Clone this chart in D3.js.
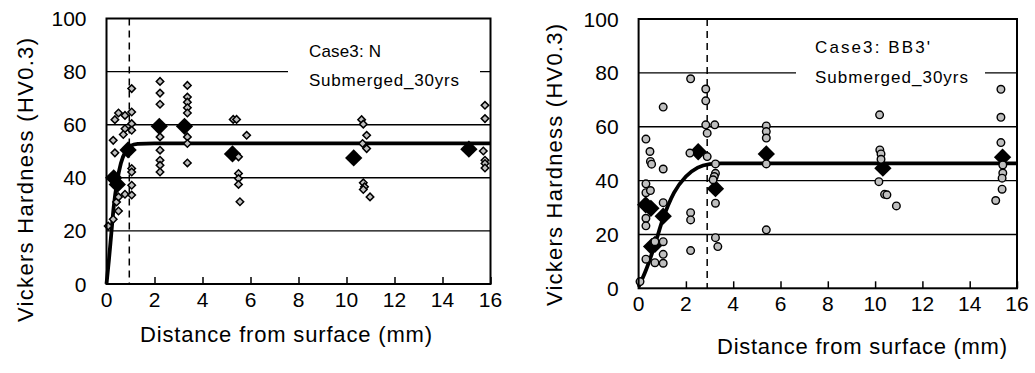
<!DOCTYPE html>
<html><head><meta charset="utf-8">
<script src="https://cdn.jsdelivr.net/npm/d3@7"></script>
<style>body{margin:0;background:#fff}svg{display:block}text{font-family:"Liberation Sans",Arial,sans-serif;fill:#000}</style>
</head><body><svg id="c" width="1035" height="373"></svg>
<script>
// ---- data ----
const xTicks = [0,2,4,6,8,10,12,14,16];
const yTicks = [0,20,40,60,80,100];
const gridValues = [20,40,60,80];

// Left panel: Case3: N
const leftLabel1 = "Case3: N";
const leftLabel2 = "Submerged_30yrs";
const leftBoundary = 0.95;
const leftPtX = [0.07,0.28,0.35,0.5,0.35,0.42,0.5,0.5,0.28,0.77,0.77,0.7,0.77,
  1.05,1.05,1.05,1.05,1.05,1.05,1.05,1.05,
  2.23,2.23,2.23,2.23,2.23,2.23,2.23,2.23,
  3.37,3.37,3.37,3.37,3.37,3.37,3.37,3.37,
  5.28,5.42,5.5,5.5,5.5,5.5,5.56,5.84,
  10.63,10.7,10.84,10.67,10.84,10.7,10.75,10.7,10.98,
  15.77,15.77,15.7,15.77,15.77,15.77];
const leftPtY = [21.8,54.1,61.9,64.4,49.4,30.9,32.8,27.5,24.4,63.5,58.5,56.3,33.8,
  73.6,64.8,60.4,57.9,43.5,42.2,37.2,33.5,
  76.3,71.9,67.7,55.4,50.4,46.6,44.7,42.2,
  74.8,70.4,68.5,66.4,64.4,55.4,52.9,45.6,
  62,62,47.9,41.6,39.7,37.5,31,56,
  61.9,60.2,56,52.9,51,38.1,36.6,35.6,32.8,
  67.3,62.3,50.1,46.6,45.4,43.7];
const leftMeanX = [0.3,0.45,0.9,2.2,3.25,5.25,10.3,15.1];
const leftMeanY = [40,37.5,50.5,59.4,59.4,49,47.5,50.8];
const leftFitX = [0,0.1,0.2,0.3,0.45,0.6,0.8,1.0,1.3,2,16];
const leftFitY = [0,9,19,29,39,45.5,50,52,52.8,53,53];

// Right panel: Case3: BB3'
const rightLabel1 = "Case3:  BB3'";
const rightLabel2 = "Submerged_30yrs";
const rightBoundary = 2.9;
const rightPtX = [0.06,
  0.31,0.48,0.5,0.55,0.31,0.31,0.5,0.31,0.31,0.31,
  0.69,0.69,
  1.04,1.04,1.04,1.04,1.04,1.04,
  2.2,2.17,2.2,2.2,2.2,
  2.84,2.84,2.84,2.9,2.9,
  3.22,3.25,3.25,3.2,3.15,3.25,3.25,3.35,
  5.4,5.4,5.4,5.4,5.4,
  10.19,10.2,10.25,10.25,10.16,10.4,10.5,10.9,
  15.32,15.32,15.32,15.4,15.4,15.37,15.37,15.1];
const rightPtY = [2.5,
  55.4,50.8,47.1,46.1,38.8,35.5,36.3,26,23.2,10.8,
  17.3,9.5,
  67.3,44.3,31.8,17.3,12.6,9.3,
  77.8,50.2,28.1,25.4,14,
  74,69.6,60.7,57.6,48.9,
  60.7,46.2,42.7,41.5,40.3,31.6,18.8,15.5,
  60.3,58.2,55.8,46.2,21.7,
  64.4,51.4,49.9,47.9,39.6,34.9,34.7,30.6,
  73.9,63.5,54.1,45.8,42.8,40.9,36.8,32.6];
const rightMeanX = [0.3,0.52,0.55,0.69,1.04,2.52,3.25,5.4,10.33,15.39];
const rightMeanY = [31,29.7,15.5,16.3,26.8,50.7,37,49.9,44.6,48.7];
const rightFitX = [0,0.3,0.7,1.0,1.5,2.0,2.5,3.0,3.5,16];
const rightFitY = [0.5,6.5,16.5,25,35.5,41.5,44.8,46.1,46.4,46.4];

const xTitle = "Distance from surface (mm)";
const yTitle = "Vickers Hardness (HV0.3)";

// ---- drawing ----
const svg = d3.select("#c");
svg.append("rect").attr("width",1035).attr("height",373).attr("fill","#fff");

function panel(o){
  const x = d3.scaleLinear().domain([0,16]).range([o.x0,o.x1]);
  const y = d3.scaleLinear().domain([0,100]).range([o.y0,o.y1]);
  const g = svg.append("g");
  g.selectAll("line.grid").data(gridValues).join("line")
    .attr("x1",x(0)).attr("x2",x(16)).attr("y1",d=>y(d)).attr("y2",d=>y(d))
    .attr("stroke","#000").attr("stroke-width",1.4);
  const xa = d3.axisTop(x).tickValues(xTicks).tickSize(7).tickFormat("");
  const ga = g.append("g").attr("transform",`translate(0,${y(0)})`).call(xa);
  ga.select(".domain").remove();
  ga.selectAll("line").attr("stroke","#000").attr("stroke-width",1.5);
  g.selectAll("text.xt").data(xTicks).join("text")
    .attr("x",d=>x(d)).attr("y",y(0)+o.xtOff).attr("text-anchor","middle")
    .attr("font-size",21).text(d=>d);
  g.selectAll("text.yt").data(yTicks).join("text")
    .attr("x",x(0)-20).attr("y",d=>y(d)).attr("dy","0.36em").attr("text-anchor","end")
    .attr("font-size",21).text(d=>d);
  g.append("line").attr("x1",x(o.boundary)).attr("x2",x(o.boundary))
    .attr("y1",y(100)).attr("y2",y(0)).attr("stroke","#000").attr("stroke-width",1.5)
    .attr("stroke-dasharray","7,5");
  g.append("rect").attr("x",o.boxX0).attr("width",o.boxX1-o.boxX0)
    .attr("y",y(80)-4).attr("height",8).attr("fill","#fff");
  g.append("text").attr("x",o.tx).attr("y",o.ty1).attr("font-size",17)
    .attr("textLength",o.tl1).attr("lengthAdjust","spacing").text(o.l1);
  g.append("text").attr("x",o.tx).attr("y",o.ty2).attr("font-size",17)
    .attr("textLength",o.tl2).attr("lengthAdjust","spacing").text(o.l2);
  const fit = o.fitX.map((v,i)=>[v,o.fitY[i]]);
  g.append("path").datum(fit)
    .attr("d",d3.line().x(d=>x(d[0])).y(d=>y(d[1])).curve(d3.curveMonotoneX))
    .attr("fill","none").attr("stroke","#000").attr("stroke-width",3.8);
  const mean = o.meanX.map((v,i)=>[v,o.meanY[i]]);
  const big = d3.symbol().type(d3.symbolSquare).size(150)();
  g.selectAll("path.mean").data(mean).join("path")
    .attr("d",big).attr("transform",d=>`translate(${x(d[0])},${y(d[1])}) rotate(45)`)
    .attr("fill","#000");
  const pts = o.ptX.map((v,i)=>[v,o.ptY[i]]);
  if(o.circle){
    g.selectAll("circle.pt").data(pts).join("circle")
      .attr("cx",d=>x(d[0])).attr("cy",d=>y(d[1])).attr("r",3.8)
      .attr("fill","#bfbfbf").attr("stroke","#000").attr("stroke-width",1.4);
  } else {
    const sm = d3.symbol().type(d3.symbolSquare).size(28)();
    g.selectAll("path.pt").data(pts).join("path")
      .attr("d",sm).attr("transform",d=>`translate(${x(d[0])},${y(d[1])}) rotate(45)`)
      .attr("fill","#bfbfbf").attr("stroke","#000").attr("stroke-width",1.5);
  }
  g.append("rect").attr("x",x(0)).attr("y",y(100)).attr("width",x(16)-x(0))
    .attr("height",y(0)-y(100)).attr("fill","none").attr("stroke","#000").attr("stroke-width",2);
  g.append("text").attr("x",o.xtX).attr("y",o.xtY).attr("text-anchor","middle")
    .attr("font-size",22).attr("textLength",o.xtLen).attr("lengthAdjust","spacing").text(xTitle);
  g.append("text").attr("transform",`translate(${o.ytX},${o.ytY}) rotate(-90)`)
    .attr("text-anchor","middle").attr("dy","0.36em")
    .attr("font-size",22).attr("textLength",o.ytLen).attr("lengthAdjust","spacing").text(yTitle);
}

panel({x0:106.5,x1:490.5,y0:284,y1:18.5,xtOff:23,boundary:leftBoundary,
  boxX0:288,boxX1:480,tx:309,ty1:57,ty2:86,tl1:72,tl2:150,l1:leftLabel1,l2:leftLabel2,
  fitX:leftFitX,fitY:leftFitY,meanX:leftMeanX,meanY:leftMeanY,ptX:leftPtX,ptY:leftPtY,circle:false,
  xtX:286,xtY:342,xtLen:292,ytX:25,ytY:180,ytLen:284});
panel({x0:638.6,x1:1017,y0:288.3,y1:19,xtOff:23,boundary:rightBoundary,
  boxX0:796,boxX1:985,tx:815,ty1:53,ty2:83,tl1:115,tl2:153,l1:rightLabel1,l2:rightLabel2,
  fitX:rightFitX,fitY:rightFitY,meanX:rightMeanX,meanY:rightMeanY,ptX:rightPtX,ptY:rightPtY,circle:true,
  xtX:862,xtY:354,xtLen:290,ytX:554,ytY:165,ytLen:282});
</script></body></html>
